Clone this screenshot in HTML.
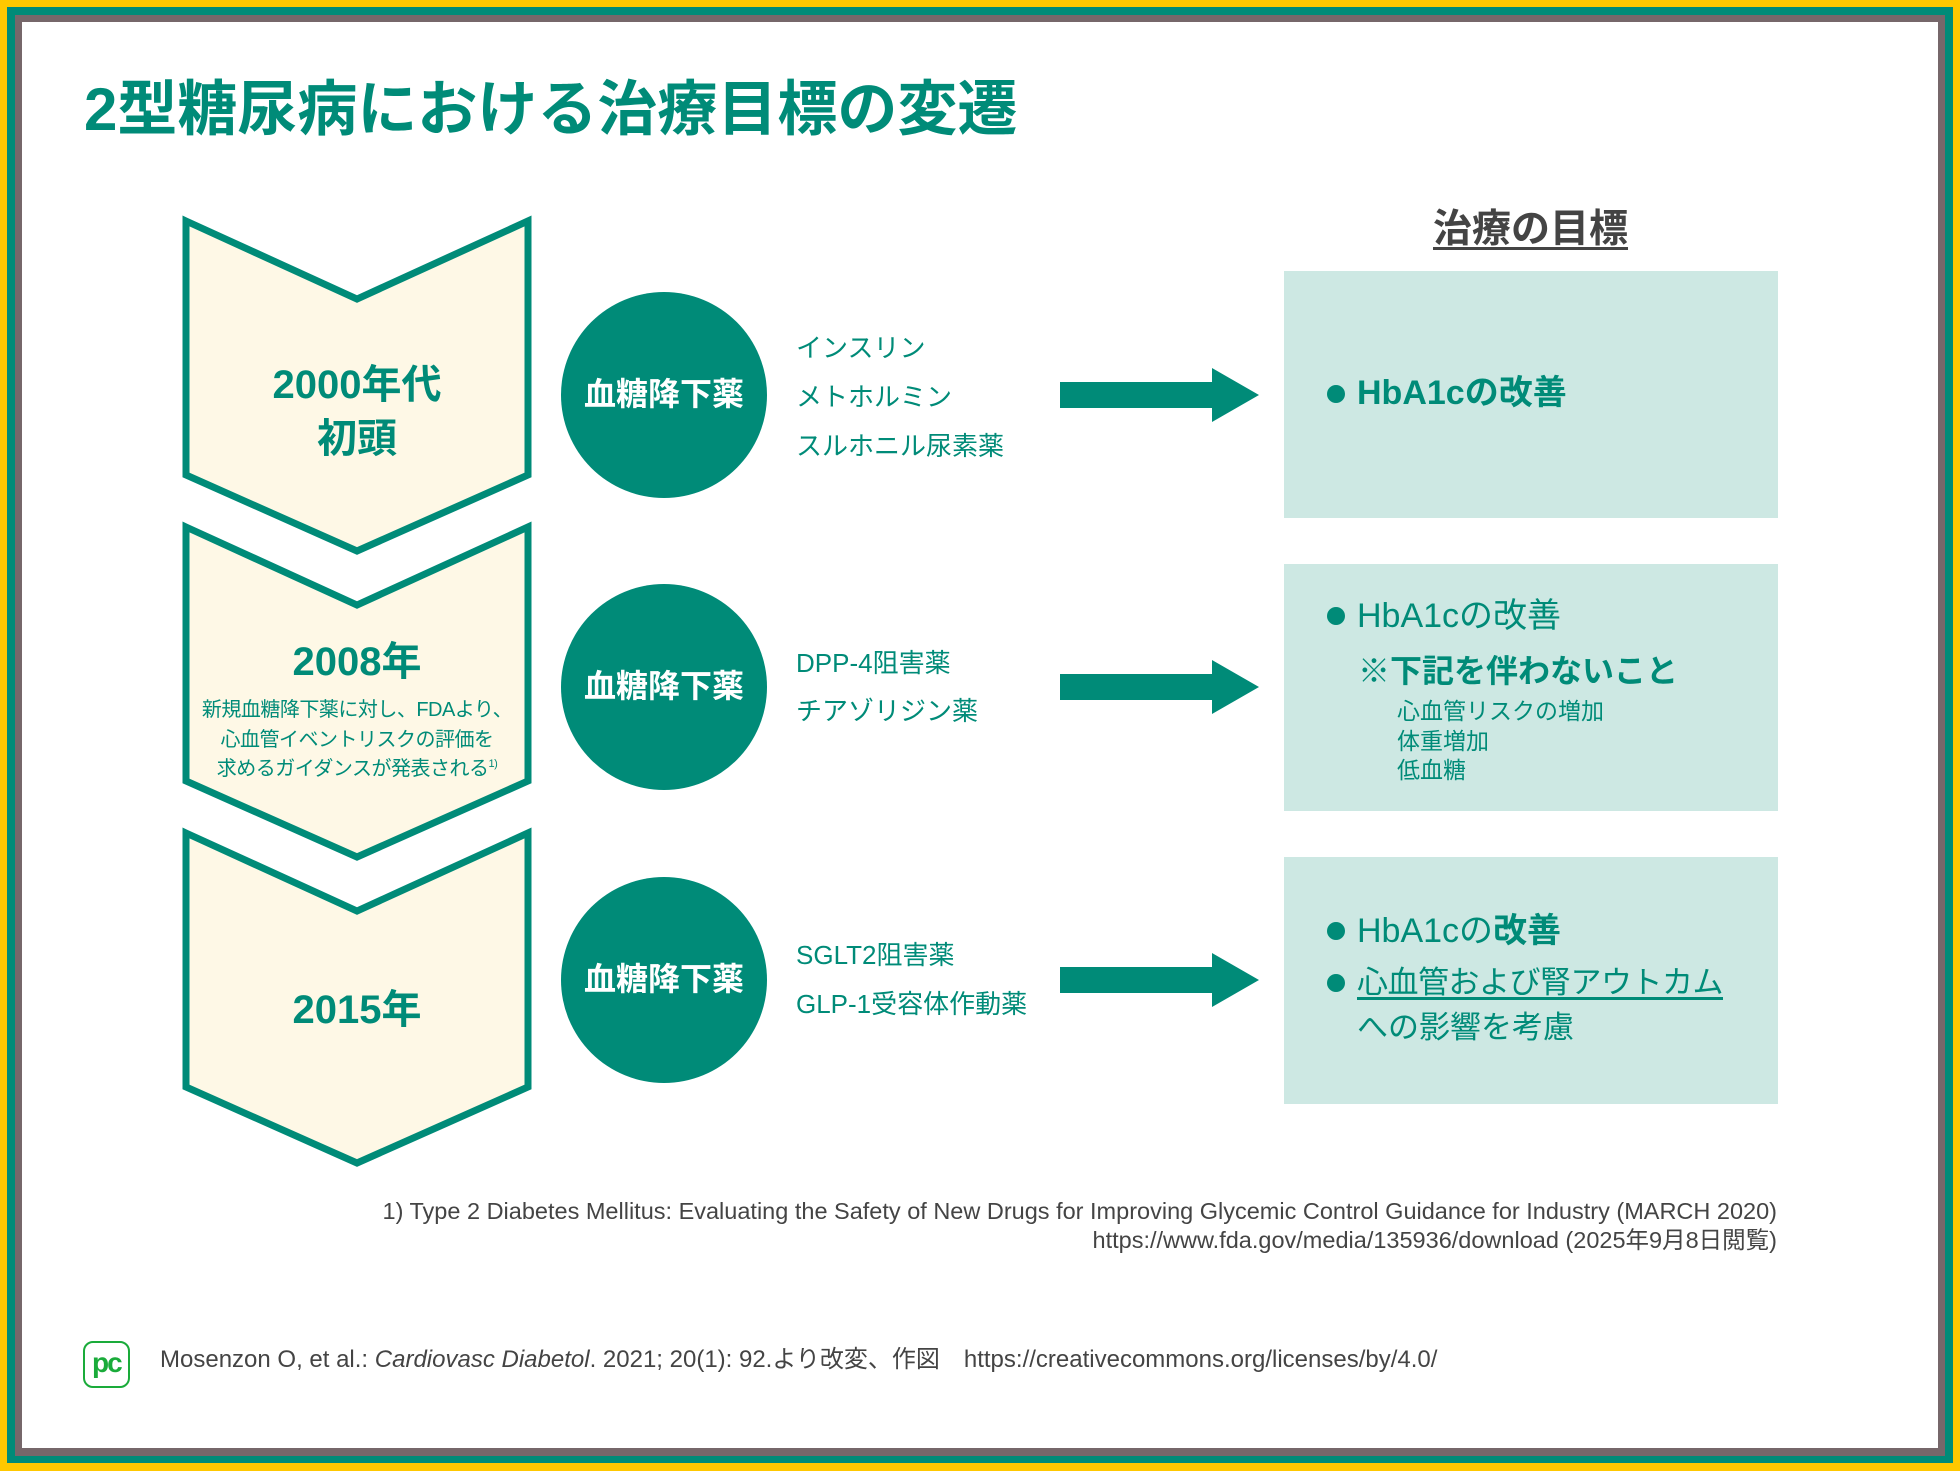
<!DOCTYPE html>
<html><head><meta charset="utf-8">
<style>
html,body{margin:0;padding:0;}
body{width:1960px;height:1471px;position:relative;overflow:hidden;background:#fff;font-family:"Liberation Sans","Noto Sans CJK JP",sans-serif;}
.t{position:absolute;white-space:nowrap;line-height:1;}
.g{color:#008b78;}
</style></head><body>
<svg width="1960" height="1471" style="position:absolute;left:0;top:0">
<rect x="0" y="0" width="1960" height="1471" fill="#ffc800"/>
<rect x="7" y="7" width="1946" height="1456" fill="#008b78"/>
<rect x="15" y="15" width="1930" height="1441" fill="#76676a"/>
<rect x="22" y="22" width="1916" height="1426" fill="#fff"/>
<g fill="#fef8e6" stroke="#008b78" stroke-width="7" stroke-linejoin="miter">
<polygon points="186,221 357,299 528,221 528,475 357,551 186,475"/>
<polygon points="186,527 357,605 528,527 528,781 357,857 186,781"/>
<polygon points="186,833 357,911 528,833 528,1087 357,1163 186,1087"/>
</g>
<g fill="#008b78">
<circle cx="664" cy="395" r="103"/>
<circle cx="664" cy="687" r="103"/>
<circle cx="664" cy="980" r="103"/>
<polygon points="1060,382 1212,382 1212,368 1259,395 1212,422 1212,408 1060,408"/>
<polygon points="1060,674 1212,674 1212,660 1259,687 1212,714 1212,700 1060,700"/>
<polygon points="1060,967 1212,967 1212,953 1259,980 1212,1007 1212,993 1060,993"/>
</g>
<g fill="#cde8e3">
<rect x="1284" y="271" width="494" height="247"/>
<rect x="1284" y="564" width="494" height="247"/>
<rect x="1284" y="857" width="494" height="247"/>
</g>
<g fill="#008b78">
<circle cx="1336" cy="394" r="9"/>
<circle cx="1336" cy="616" r="9"/>
<circle cx="1336" cy="931" r="9"/>
<circle cx="1336" cy="983" r="9"/>
</g>
<rect x="84" y="1342" width="45" height="45" rx="9" fill="#fff" stroke="#1aab3a" stroke-width="2"/>
</svg>
<div class="t" style="left:92px;top:1349px;font-size:28px;font-weight:bold;color:#1aab3a;letter-spacing:-2px">pc</div>

<div class="t g" style="left:84px;top:80px;font-size:60px;font-weight:bold">2型糖尿病における治療目標の変遷</div>
<div class="t" style="left:1433px;top:210px;font-size:39px;font-weight:bold;color:#444;text-decoration:underline;text-underline-offset:5px">治療の目標</div>

<div class="t g" style="left:186px;width:342px;text-align:center;top:358px;font-size:40px;font-weight:bold;line-height:54px">2000年代<br>初頭</div>
<div class="t g" style="left:186px;width:342px;text-align:center;top:642px;font-size:40px;font-weight:bold">2008年</div>
<div class="t g" style="left:186px;width:342px;text-align:center;top:696px;font-size:20px;line-height:29.5px;letter-spacing:-0.5px">新規血糖降下薬に対し、FDAより、<br>心血管イベントリスクの評価を<br>求めるガイダンスが発表される<sup style="font-size:11px;vertical-align:8px;line-height:0">1)</sup></div>
<div class="t g" style="left:186px;width:342px;text-align:center;top:990px;font-size:40px;font-weight:bold">2015年</div>

<div class="t" style="left:561px;width:206px;text-align:center;top:378px;font-size:32px;font-weight:bold;color:#fff">血糖降下薬</div>
<div class="t" style="left:561px;width:206px;text-align:center;top:670px;font-size:32px;font-weight:bold;color:#fff">血糖降下薬</div>
<div class="t" style="left:561px;width:206px;text-align:center;top:963px;font-size:32px;font-weight:bold;color:#fff">血糖降下薬</div>

<div class="t g" style="left:796px;top:324px;font-size:26px;line-height:49px">インスリン<br>メトホルミン<br>スルホニル尿素薬</div>
<div class="t g" style="left:796px;top:639px;font-size:26px;line-height:48px">DPP-4阻害薬<br>チアゾリジン薬</div>
<div class="t g" style="left:796px;top:931px;font-size:26px;line-height:49px">SGLT2阻害薬<br>GLP-1受容体作動薬</div>

<div class="t g" style="left:1357px;top:376px;font-size:34px;font-weight:bold">HbA1cの改善</div>
<div class="t g" style="left:1357px;top:599px;font-size:34px">HbA1cの改善</div>
<div class="t g" style="left:1358px;top:655px;font-size:32px;font-weight:bold">※下記を伴わないこと</div>
<div class="t g" style="left:1397px;top:697px;font-size:23px;line-height:29.5px">心血管リスクの増加<br>体重増加<br>低血糖</div>
<div class="t g" style="left:1357px;top:914px;font-size:34px">HbA1cの<b>改善</b></div>
<div class="t g" style="left:1357px;top:967px;font-size:31px;letter-spacing:-0.5px;text-decoration:underline;text-underline-offset:4px">心血管および腎アウトカム</div>
<div class="t g" style="left:1357px;top:1012px;font-size:31px">への影響を考慮</div>

<div class="t" style="right:183px;top:1197px;font-size:23.5px;color:#444;text-align:right;line-height:29px">1) Type 2 Diabetes Mellitus: Evaluating the Safety of New Drugs for Improving Glycemic Control Guidance for Industry (MARCH 2020)<br>https://www.fda.gov/media/135936/download (2025年9月8日閲覧)</div>
<div class="t" style="left:160px;top:1348px;font-size:24px;color:#444">Mosenzon O, et al.: <i>Cardiovasc Diabetol</i>. 2021; 20(1): 92.より改変、作図　https://creativecommons.org/licenses/by/4.0/</div>
</body></html>
